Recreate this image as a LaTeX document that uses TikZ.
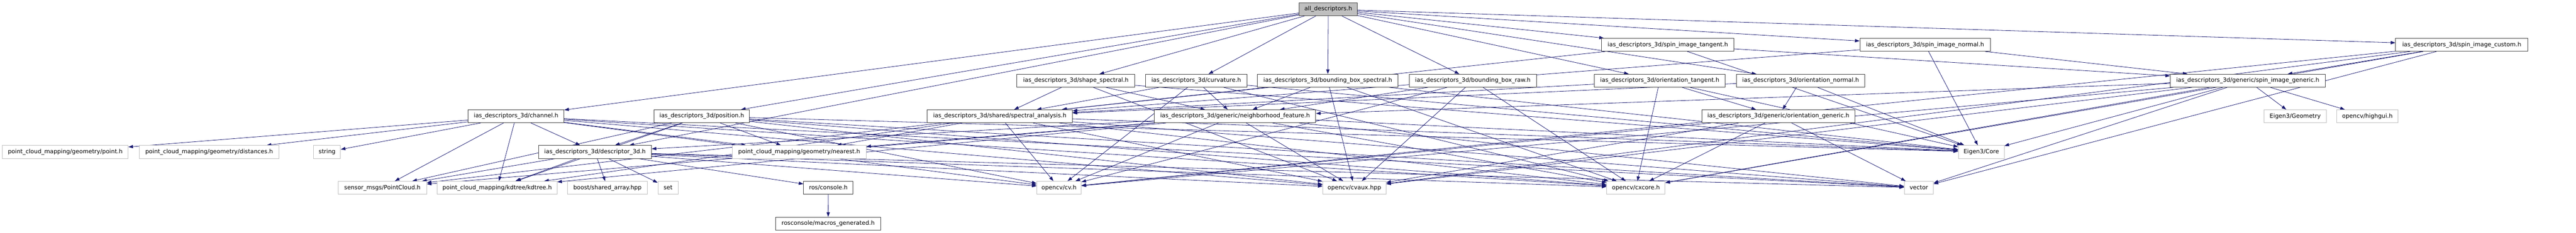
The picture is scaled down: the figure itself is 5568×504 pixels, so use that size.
\documentclass[tikz,border=0pt]{standalone}
\usepackage{fontspec}
\setmainfont{DejaVu Sans}
\usetikzlibrary{arrows.meta,backgrounds}
\definecolor{mblue}{HTML}{191970}
\definecolor{dgray}{HTML}{404040}
\definecolor{lgray}{HTML}{BFBFBF}
\tikzset{
  box/.style={draw=dgray, fill=white, line width=1pt, minimum height=28pt,
    inner xsep=2pt, inner ysep=0pt, font=\fontsize{12.6pt}{15pt}\selectfont, text=black},
  ext/.style={box, draw=lgray},
  rootbox/.style={box, fill=lgray},
  edge/.style={draw=mblue, line width=0.9pt, -{Triangle[length=10pt,width=7pt]}}
}
\begin{document}
\begin{tikzpicture}[x=1pt,y=-1pt]
\useasboundingbox (0,0) rectangle (5568,504);
% row 0
\node[rootbox, minimum width=126pt] (all) at (2871,20) {all\_descriptors.h};
% row 1
\node[box, minimum width=286pt] (sit) at (3605,97) {ias\_descriptors\_3d/spin\_image\_tangent.h};
\node[box, minimum width=282pt] (sin) at (4161,97) {ias\_descriptors\_3d/spin\_image\_normal.h};
\node[box, minimum width=286pt] (sic) at (5321,97) {ias\_descriptors\_3d/spin\_image\_custom.h};
% row 2
\node[box, minimum width=255pt] (ss) at (2325.5,174.7) {ias\_descriptors\_3d/shape\_spectral.h};
\node[box, minimum width=219pt] (curv) at (2585.5,174.7) {ias\_descriptors\_3d/curvature.h};
\node[box, minimum width=304pt] (bbs) at (2870,174.7) {ias\_descriptors\_3d/bounding\_box\_spectral.h};
\node[box, minimum width=275pt] (bbr) at (3183.5,174.7) {ias\_descriptors\_3d/bounding\_box\_raw.h};
\node[box, minimum width=283pt] (ot) at (3587.5,174.7) {ias\_descriptors\_3d/orientation\_tangent.h};
\node[box, minimum width=278pt] (on) at (3892,174.7) {ias\_descriptors\_3d/orientation\_normal.h};
\node[box, minimum width=335pt] (sig) at (4858.5,174.7) {ias\_descriptors\_3d/generic/spin\_image\_generic.h};
% row 3
\node[box, minimum width=207pt] (chan) at (1115.5,251.7) {ias\_descriptors\_3d/channel.h};
\node[box, minimum width=206pt] (pos) at (1517,251.7) {ias\_descriptors\_3d/position.h};
\node[box, minimum width=314pt] (sa) at (2161,251.7) {ias\_descriptors\_3d/shared/spectral\_analysis.h};
\node[box, minimum width=349pt] (nf) at (2669.5,251.7) {ias\_descriptors\_3d/generic/neighborhood\_feature.h};
\node[box, minimum width=330pt] (og) at (3844,251.7) {ias\_descriptors\_3d/generic/orientation\_generic.h};
\node[ext, minimum width=134pt] (egeo) at (4961,251.7) {Eigen3/Geometry};
\node[ext, minimum width=132pt] (hg) at (5117,251.7) {opencv/highgui.h};
% row 4
\node[ext, minimum width=272pt] (pt) at (141,329) {point\_cloud\_mapping/geometry/point.h};
\node[ext, minimum width=302pt] (dist) at (452,329) {point\_cloud\_mapping/geometry/distances.h};
\node[ext, minimum width=58pt] (str) at (707,329) {string};
\node[box, minimum width=244pt] (d3d) at (1286,329) {ias\_descriptors\_3d/descriptor\_3d.h};
\node[ext, minimum width=289pt] (near) at (1727.5,329) {point\_cloud\_mapping/geometry/nearest.h};
\node[ext, minimum width=99pt] (ecore) at (4282.5,329) {Eigen3/Core};
% row 5
\node[ext, minimum width=191pt] (pc) at (826.5,406.5) {sensor\_msgs/PointCloud.h};
\node[ext, minimum width=259pt] (kd) at (1074.5,406.5) {point\_cloud\_mapping/kdtree/kdtree.h};
\node[ext, minimum width=172pt] (bsa) at (1313,406.5) {boost/shared\_array.hpp};
\node[ext, minimum width=44pt] (set) at (1444,406.5) {set};
\node[box, minimum width=107pt] (rc) at (1790.5,406.5) {ros/console.h};
\node[ext, minimum width=96pt] (cv) at (2289,406.5) {opencv/cv.h};
\node[ext, minimum width=137pt] (cvaux) at (2927.5,406.5) {opencv/cvaux.hpp};
\node[ext, minimum width=126pt] (cxcore) at (3536,406.5) {opencv/cxcore.h};
\node[ext, minimum width=63pt] (vec) at (4147.5,406.5) {vector};
% row 6
\node[box, minimum width=228pt] (mg) at (1790,484) {rosconsole/macros\_generated.h};

\begin{scope}[on background layer]
\foreach \t in {chan,pos,d3d,ss,curv,bbs,bbr,ot,on,sit,sin,sic} \draw[edge] (all) -- (\t);
\foreach \t in {sa,sig,ecore} \draw[edge] (sit) -- (\t);
\foreach \t in {sa,sig,ecore} \draw[edge] (sin) -- (\t);
\foreach \t in {sig,vec,cxcore,cvaux,cv} \draw[edge] (sic) -- (\t);
\foreach \t in {nf,egeo,hg,ecore,vec,cxcore,cv,cvaux} \draw[edge] (sig) -- (\t);
\foreach \t in {sa,nf,cvaux,ecore} \draw[edge] (ss) -- (\t);
\foreach \t in {sa,nf,cv,ecore,cxcore} \draw[edge] (curv) -- (\t);
\foreach \t in {sa,nf,cvaux,cxcore,ecore} \draw[edge] (bbs) -- (\t);
\foreach \t in {nf,cv,cvaux,cxcore} \draw[edge] (bbr) -- (\t);
\foreach \t in {sa,og,ecore,cxcore} \draw[edge] (ot) -- (\t);
\foreach \t in {sa,og,ecore} \draw[edge] (on) -- (\t);
\foreach \t in {cv,cxcore,cvaux,vec} \draw[edge] (og) -- (\t);
\foreach \t in {pc,kd,near,cv,cvaux,cxcore,vec,ecore} \draw[edge] (sa) -- (\t);
\foreach \t in {d3d,pc,kd,near,cv,cvaux,cxcore,vec,ecore} \draw[edge] (nf) -- (\t);
\foreach \t in {pt,dist,str,pc,kd,d3d,near,cv,cvaux,cxcore,vec} \draw[edge] (chan) -- (\t);
\foreach \t in {d3d,pc,kd,near,cv,cvaux,cxcore,vec,ecore} \draw[edge] (pos) -- (\t);
\foreach \t in {pc,kd,bsa,set,rc,cv,cvaux,cxcore,vec} \draw[edge] (d3d) -- (\t);
\draw[edge] (rc) -- (mg);
\end{scope}
\end{tikzpicture}
\end{document}
